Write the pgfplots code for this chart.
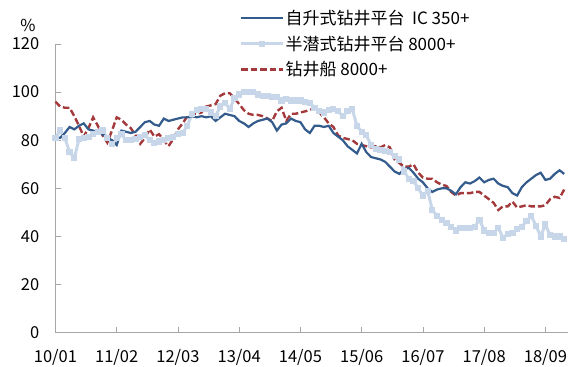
\documentclass[border=0pt]{standalone}
\usepackage{fontspec}
\setmainfont{Noto Sans CJK SC}
\usepackage{pgfplots}
\pgfplotsset{compat=1.18}

\definecolor{jackup}{HTML}{335C8C}
\definecolor{semisub}{HTML}{C8D6EA}
\definecolor{drillship}{HTML}{A3393B}
\definecolor{axisgray}{HTML}{A6A6A6}

% month index: 0 = 2010/01
\pgfplotstableread{
m v
0 81
1 81
2 83
3 85.5
4 84.5
5 86
6 87
7 84.5
8 84
9 83
10 82.5
11 81
12 80
13 78
14 84
15 83.5
16 83
17 83.5
18 85.5
19 87.5
20 88
21 86.5
22 86
23 89
24 88
25 88.5
26 89
27 89.5
28 89.5
29 90
30 89.5
31 90
32 89.5
33 90
34 88
35 89.5
36 91
37 90.5
38 90
39 88
40 87
41 85.5
42 87
43 88
44 88.5
45 89
46 87.5
47 84
48 86.5
49 87
50 89
51 88
52 87.5
53 84.5
54 83
55 86
56 86
57 85.5
58 86
59 83
60 81.5
61 80
62 77.5
63 76
64 74.5
65 78.5
66 75
67 73
68 72.5
69 72
70 71
71 69
72 67
73 66
74 68
75 68.5
76 66.5
77 64
78 62.5
79 60
80 58.5
81 59.5
82 60
83 60
84 59
85 57.5
86 60.5
87 62.5
88 62
89 63
90 64.5
91 62.5
92 63.5
93 64
94 62
95 61
96 60.5
97 58
98 57
99 60.5
100 62.5
101 64
102 65.5
103 66.5
104 63.5
105 64
106 66
107 67.5
108 66
}\jackuptab

\pgfplotstableread{
m v
0 81
1 84
2 81
3 75
4 72.5
5 80.5
6 81
7 81.5
8 82.5
9 83.5
10 84
11 81
12 78.5
13 81
14 82.5
15 80
16 80
17 80.5
18 81.5
19 82
20 80
21 79
22 79.5
23 80
24 81
25 81.5
26 82.5
27 83
28 86
29 91
30 92.5
31 93
32 93
33 91.5
34 90
35 94
36 95.5
37 93
38 97.5
39 99
40 100
41 100
42 100
43 99
44 98.5
45 98.5
46 98
47 98
48 96.5
49 97
50 96.5
51 96.5
52 96.5
53 96
54 95.5
55 93.5
56 92
57 91.5
58 92.5
59 93
60 92
61 90
62 92
63 93
64 86
65 83.5
66 82
67 78
68 76.5
69 76
70 75.5
71 75
72 73.5
73 72
74 67
75 64
76 63
77 60
78 57
79 59
80 51
81 48.5
82 47
83 45.5
84 44
85 42.5
86 43.5
87 43.5
88 43.5
89 44
90 47
91 42.5
92 41.5
93 41.5
94 43.5
95 39.5
96 41
97 41.5
98 43
99 44
100 46.5
101 48.5
102 44.5
103 40
104 45
105 40.5
106 40
107 40
108 39
}\semisubtab

\pgfplotstableread{
m v
0 96
1 94
2 93.5
3 93.5
4 90
5 86
6 81.5
7 85
8 89.5
9 86
10 82
11 79
12 84
13 89.5
14 88.5
15 86.5
16 85
17 82
18 78.5
19 81
20 84.5
21 81.5
22 82.5
23 80
24 77.5
25 80.5
26 84.5
27 87
28 90
29 91
30 91
31 91.5
32 94
33 94.5
34 95
35 98.5
36 99.5
37 99.5
38 97.5
39 95
40 92.5
41 91
42 90.5
43 90.5
44 90
45 89
46 88
47 92
48 93.5
49 88
50 91
51 91
52 91.5
53 92
54 92.5
55 93.5
56 91.5
57 89.5
58 87
59 85.5
60 82
61 81
62 80.5
63 80
64 78.5
65 78
66 77.5
67 77
68 77.5
69 77
70 78
71 77
72 72
73 70.5
74 69
75 69
76 70
77 66.5
78 64.5
79 64
80 64
81 62.5
82 61.5
83 61
84 58.5
85 57
86 58
87 58
88 58
89 58.5
90 58.5
91 57
92 55.5
93 54
94 51
95 52.5
96 52.5
97 54.5
98 52
99 52.5
100 53
101 52.5
102 52.5
103 52.5
104 53
105 55.5
106 56.5
107 56
108 59.5
}\drillshiptab

\pgfplotsset{
  jackupstyle/.style={jackup, line width=2.2pt},
  semisubstyle/.style={semisub, line width=3pt, mark=square*, mark size=2.6pt,
    mark options={solid, draw=semisub, fill=semisub, line width=0pt}},
  drillshipstyle/.style={drillship, line width=2.4pt, dash pattern=on 6.5pt off 3pt},
}

\begin{document}
\begin{tikzpicture}
\begin{axis}[
  scale only axis,
  width=513pt, height=289pt,
  xmin=0, xmax=108.8, ymin=0, ymax=120,
  axis x line*=bottom, axis y line*=left,
  axis line style={draw=axisgray, line width=1pt, -},
  xtick={0,13,...,104},
  xticklabels={10/01,11/02,12/03,13/04,14/05,15/06,16/07,17/08,18/09},
  ytick={0,20,...,120},
  tick align=inside, major tick length=6pt,
  tick style={draw=axisgray, line width=0.8pt},
  tick label style={font=\fontsize{16.5}{19}\selectfont, inner sep=0pt},
  yticklabel style={xshift=-16pt},
  xticklabel style={yshift=-17pt},
  /pgf/number format/assume math mode=true,
  clip=false,
  legend cell align=left,
  legend style={at={(0.359,1.122)}, anchor=north west, draw=none, fill=none,
    inner sep=0pt, row sep=8pt, font=\fontsize{17}{20}\selectfont,
    nodes={inner sep=1pt}},
  /tikz/every even column/.append style={column sep=0pt},
  legend image code/.code={\draw[mark repeat=2,mark phase=2,#1] plot coordinates {(0pt,0pt) (21pt,0pt) (42pt,0pt)};},
]
% legend entries in display order
\addlegendimage{jackupstyle}
\addlegendimage{semisubstyle}
\addlegendimage{drillshipstyle}
\legend{自升式钻井平台\ \ IC 350+, 半潜式钻井平台 8000+, 钻井船 8000+}

\addplot[semisubstyle, forget plot] table[x=m, y=v] {\semisubtab};
\addplot[drillshipstyle, forget plot] table[x=m, y=v] {\drillshiptab};
\addplot[jackupstyle, forget plot] table[x=m, y=v] {\jackuptab};

\node[font=\fontsize{16.5}{19}\selectfont] at (rel axis cs:0,1) [xshift=-27.5pt, yshift=19pt] {\%};
\end{axis}
\path[use as bounding box] ([shift={(-55.5pt,-34pt)}]current axis.south west)
  rectangle ([shift={(5pt,44pt)}]current axis.north east);
\end{tikzpicture}
\end{document}
